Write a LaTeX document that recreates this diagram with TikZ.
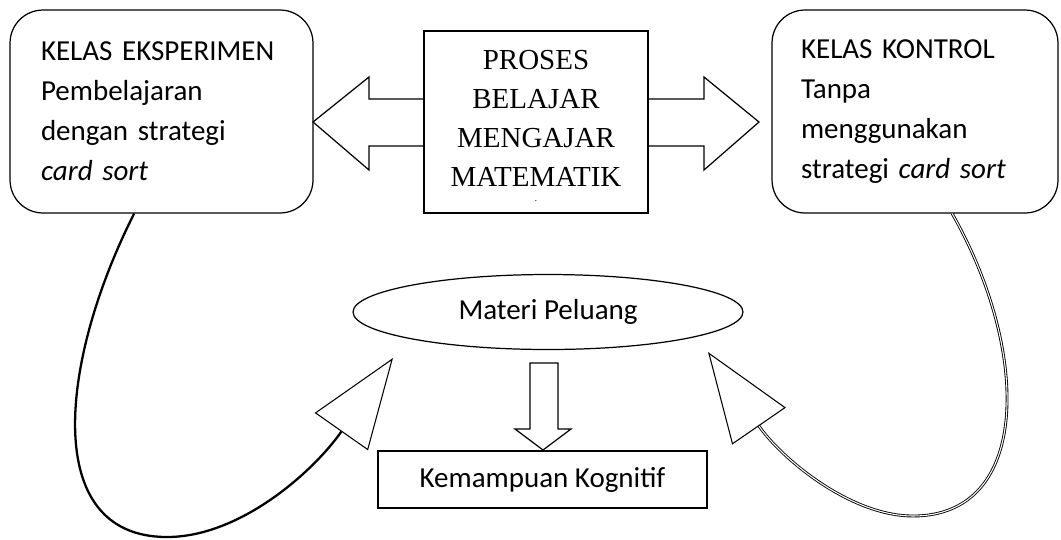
\documentclass[tikz,border=0pt]{standalone}
\usepackage{fontspec}
\setmainfont{Carlito}
\newfontfamily\timesfont{Liberation Serif}
\usetikzlibrary{arrows.meta,shapes.geometric}

\tikzset{
	kelas/.style = {draw, line width=0.7pt, rounded corners=0.66cm, align=left, minimum height=4.06cm, font=\fontsize{16.5}{22.8}\selectfont},
	kotak/.style = {draw, line width=0.7pt, fill=white},
	panah/.style = {-{Triangle[width=1.3cm, length=1.8cm, fill=white, line width=0.6pt]}},
}

\begin{document}
\begin{tikzpicture}[x=0.02cm, y=-0.02cm]
				\useasboundingbox (0,0) rectangle (1061,539);
				
				% kelas
				\node[kelas, text width=4.82cm, minimum width=6.06cm](eks) at (161.5,111.5) {KELAS EKSPERIMEN\\ Pembelajaran\\ dengan strategi\\ \textit{card sort}};
				\node[kelas, text width=4.56cm, minimum width=5.72cm](kon) at (915,111.5) {KELAS KONTROL\\ Tanpa\\ menggunakan\\ strategi \textit{card sort}};
				
				% panah dua arah
				\draw[line width=0.7pt] (424,99) -- (369,99) -- (369,77) -- (313,122) -- (369,170) -- (369,146) -- (424,146);
				\draw[line width=0.7pt] (648,99) -- (704,99) -- (704,77) -- (759,122) -- (704,170) -- (704,146) -- (648,146);
				\node[kotak, minimum width=4.48cm, minimum height=3.64cm, align=center, text depth=4pt, font=\timesfont\fontsize{16.5}{22.2}\selectfont](proses) at (536,122) {PROSES\\ BELAJAR\\ MENGAJAR\\ MATEMATIK};
				\node[font=\tiny, inner sep=0pt](titik) at (536,201) {.};
				
				% materi dan hasil
				\node[draw, ellipse, line width=0.7pt, minimum width=7.8cm, minimum height=1.5cm, inner sep=0pt, font=\fontsize{16.5}{20}\selectfont](materi) at (548,312) {Materi Peluang};
				\node[kotak, minimum width=6.58cm, minimum height=1.14cm, font=\fontsize{16.5}{20}\selectfont](kog) at (542.5,479.5) {Kemampuan Kognitif};
				\draw[line width=0.7pt] (530,363) -- (558,363) -- (558,429) -- (571,429) -- (543,450) -- (515,429) -- (530,429) -- cycle;
				
				\coordinate[](ltip) at (393,358);
				\coordinate[](rtip) at (708,352);
				
				\draw[panah, line width=1.3pt] (eks.255) .. controls (60,360) and (40,537) .. (167,537) .. controls (240,537) and (313,472) .. (ltip);
				\draw[panah, double, double distance=0.6pt, line width=0.5pt] (kon.290) .. controls (1030,350) and (1032,516) .. (913,516) .. controls (850,516) and (781,458) .. (rtip);
\end{tikzpicture}
\end{document}
